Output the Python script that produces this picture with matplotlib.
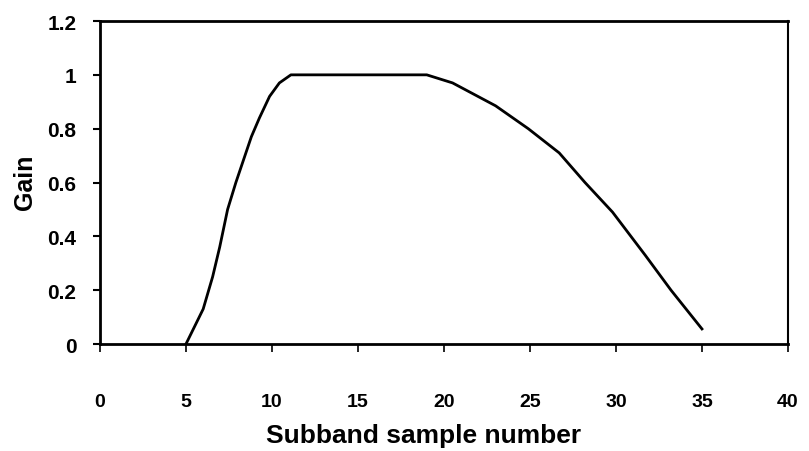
import matplotlib
matplotlib.use('Agg')
import matplotlib.pyplot as plt

# gain curve
sample = [5, 6, 6.55, 6.96, 7.42, 7.9, 8.8, 9.27, 9.86, 10.43, 11.1,
          15, 19, 20.5, 23, 24.9, 26.7, 28.2, 29.8, 31.7, 33.2, 35]
gain = [0, 0.13, 0.25, 0.36, 0.50, 0.60, 0.77, 0.84, 0.92, 0.97, 1.0,
        1.0, 1.0, 0.97, 0.885, 0.80, 0.71, 0.60, 0.49, 0.33, 0.20, 0.056]

xticks = [0, 5, 10, 15, 20, 25, 30, 35, 40]
yticks = [0, 0.2, 0.4, 0.6, 0.8, 1, 1.2]
ytick_labels = ['0', '0.2', '0.4', '0.6', '0.8', '1', '1.2']

plt.rcParams['font.family'] = ['Liberation Sans', 'DejaVu Sans']
plt.rcParams['font.weight'] = 'bold'

fig = plt.figure(figsize=(8.09, 4.52), dpi=100)
ax = fig.add_axes([0.1236, 0.2367, 0.8504, 0.7146])

ax.plot(sample, gain, color='black', lw=2.0, solid_joinstyle='round')

ax.set_xlim(0, 40)
ax.set_ylim(0, 1.2)
ax.set_xticks(xticks)
ax.set_yticks(yticks)
ax.set_yticklabels(ytick_labels)

for side in ['left', 'bottom', 'top']:
    ax.spines[side].set_linewidth(2.0)
ax.spines['right'].set_linewidth(1.5)

ax.tick_params(axis='x', direction='out', length=6, width=1.2, pad=29, labelsize=14)
ax.tick_params(axis='y', direction='out', length=5, width=1.5, pad=12, labelsize=15)
for lab in ax.get_xticklabels() + ax.get_yticklabels():
    lab.set_fontweight('bold')

ax.set_xlabel('Subband sample number', fontsize=19, fontweight='bold')
ax.set_ylabel('Gain', fontsize=18, fontweight='bold')
ax.xaxis.set_label_coords(0.471, -0.245)
ax.yaxis.set_label_coords(-0.092, 0.505)

plt.savefig('out.png', dpi=100)
